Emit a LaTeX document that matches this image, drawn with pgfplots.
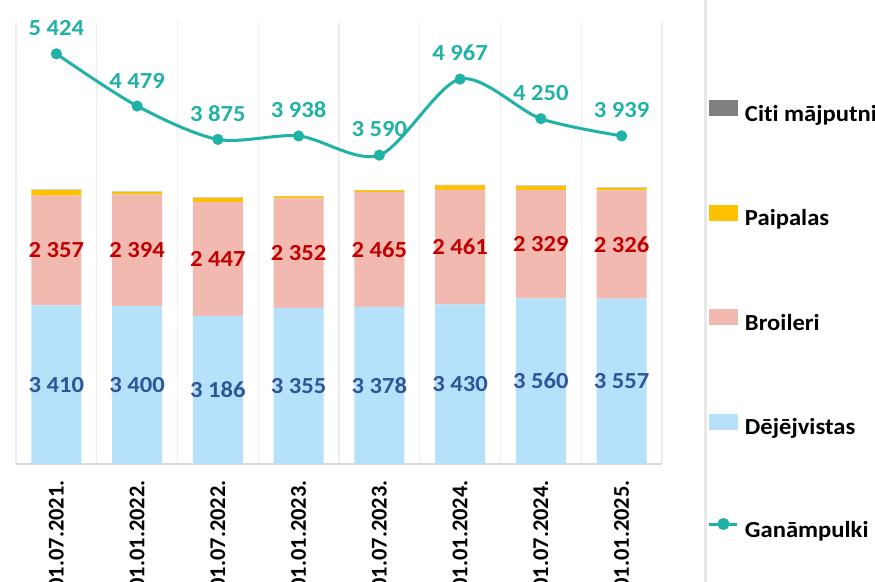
\documentclass[border=0pt]{standalone}
\usepackage{pgfplots}
\pgfplotsset{compat=1.18}
\usepackage{pgfplotstable}
\usepackage{fontspec}
\setmainfont{Carlito}[FakeStretch=1.07, Ligatures=NoCommon]
\newfontfamily\tickfont{Carlito}[Ligatures=NoCommon]
\definecolor{cBlue}{RGB}{181,226,250}
\definecolor{cPink}{RGB}{242,185,177}
\definecolor{cYellow}{RGB}{255,192,0}
\definecolor{cGray}{RGB}{127,127,127}
\definecolor{cTeal}{RGB}{32,178,166}
\definecolor{cBlueTxt}{RGB}{47,85,151}
\definecolor{cRedTxt}{RGB}{192,0,0}
\definecolor{cGrid}{RGB}{238,238,238}
\definecolor{cAxis}{RGB}{217,217,217}
\definecolor{cSep}{RGB}{232,232,232}

\pgfplotstableread{
x D B P C L
0 3410 2357 120 8 5424
1 3400 2394 50 8 4479
2 3186 2447 86 8 3875
3 3355 2352 43 8 3938
4 3378 2465 36 8 3590
5 3430 2461 100 8 4967
6 3560 2329 86 8 4250
7 3557 2326 50 8 3939
}\data

\tikzset{lblfont/.style={font=\bfseries\fontsize{23bp}{27bp}\selectfont}}
\pgfplotsset{
  base/.style={scale only axis, width=646bp, height=442bp, xmin=-0.5, xmax=7.5, clip=false},
}
\begin{document}
\begin{tikzpicture}
\path[use as bounding box, clip] (-16bp,-118bp) rectangle (859bp,464bp);
\draw[cSep, line width=3bp] (689bp,-118bp) -- (689bp,464bp);
\begin{axis}[base, ybar stacked, bar width=50bp, ymin=0, ymax=9500,
  axis y line=none, axis x line*=bottom,
  axis line style={cAxis, line width=2bp, -},
  xtick={0,...,7},
  xticklabels={01.07.2021.,01.01.2022.,01.07.2022.,01.01.2023.,01.07.2023.,01.01.2024.,01.07.2024.,01.01.2025.},
  major tick length=0pt,
  minor xtick={-0.5,0.5,1.5,2.5,3.5,4.5,5.5,6.5,7.5}, minor tick length=0pt,
  xminorgrids, minor grid style={cGrid, line width=1.2bp},
  xticklabel style={rotate=90, anchor=east, font=\tickfont\bfseries\fontsize{22.5bp}{27bp}\selectfont, inner sep=0pt},
  xticklabel shift=16bp,
]
\addplot[fill=cBlue, draw=none] table[x=x,y=D]{\data};
\addplot[fill=cPink, draw=none] table[x=x,y=B]{\data};
\addplot[fill=cYellow, draw=none] table[x=x,y=P]{\data};
\addplot[fill=cGray, draw=none] table[x=x,y=C]{\data};
\end{axis}
\begin{axis}[base, ymin=0, ymax=9500, hide axis,
  nodes near coords={\pgfmathprintnumber[assume math mode=true,1000 sep={\ }]{\pgfplotspointmeta}},
  point meta=explicit]
\addplot[draw=none, mark=none, every node near coord/.append style={anchor=center, inner sep=0pt, text=cBlueTxt, lblfont}]
  table[x=x, y expr=\thisrow{D}/2, meta=D]{\data};
\addplot[draw=none, mark=none, every node near coord/.append style={anchor=center, inner sep=0pt, text=cRedTxt, lblfont}]
  table[x=x, y expr=\thisrow{D}+\thisrow{B}/2, meta=B]{\data};
\end{axis}
\begin{axis}[base, ymin=-2000, ymax=6000, hide axis,
  legend cell align=left,
  legend style={at={(rel axis cs:1.0712,0.823)}, anchor=north west, draw=none, fill=none,
    inner sep=0pt, outer sep=0pt, row sep=78.25bp, column sep=6bp, lblfont,
    nodes={inner sep=0pt, text height=17bp, text depth=5bp}}]
\addlegendimage{legend image code/.code={\fill[cGray] (0bp,0bp) rectangle (28bp,15bp);}}
\addlegendentry{Citi mājputni}
\addlegendimage{legend image code/.code={\fill[cYellow] (0bp,0bp) rectangle (28bp,15bp);}}
\addlegendentry{Paipalas}
\addlegendimage{legend image code/.code={\fill[cPink] (0bp,0bp) rectangle (28bp,15bp);}}
\addlegendentry{Broileri}
\addlegendimage{legend image code/.code={\fill[cBlue] (0bp,0bp) rectangle (28bp,15bp);}}
\addlegendentry{Dējējvistas}
\addplot[cTeal, line width=3bp, smooth, mark=*, mark size=4bp, mark options={fill=cTeal},
  point meta=y,
  nodes near coords={\pgfmathprintnumber[assume math mode=true,1000 sep={\ }]{\pgfplotspointmeta}},
  every node near coord/.append style={anchor=south, inner sep=0pt, yshift=16.5bp, text=cTeal, lblfont},
  legend image code/.code={\draw[cTeal, line width=3bp] (0bp,7.5bp) -- (28bp,7.5bp); \fill[cTeal] (14bp,7.5bp) circle (4.5bp);}]
  table[x=x,y=L]{\data};
\addlegendentry{Ganāmpulki}
\end{axis}
\end{tikzpicture}
\end{document}
